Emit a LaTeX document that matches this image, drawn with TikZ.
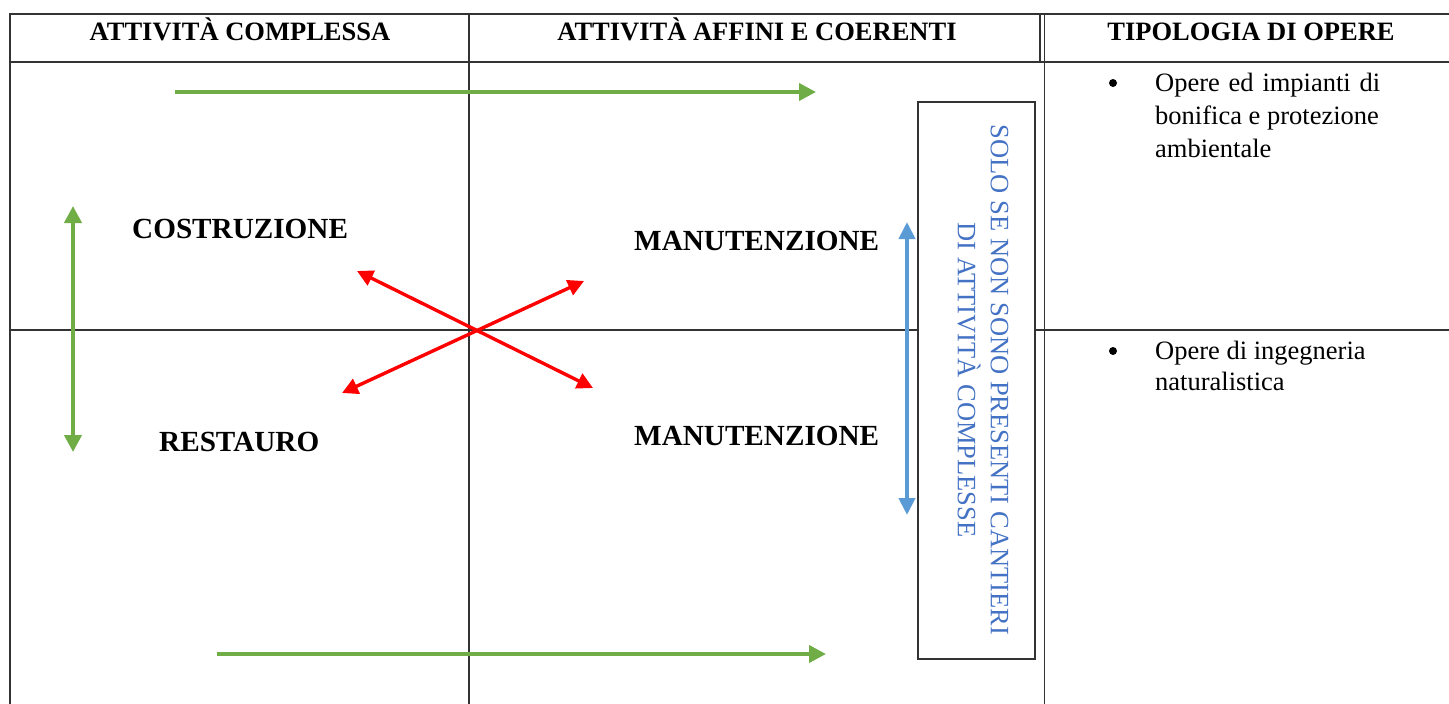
\documentclass[tikz,border=0pt]{standalone}
\usepackage{fontspec}
\setmainfont{Liberation Serif}
\usetikzlibrary{arrows.meta}
\definecolor{tgreen}{HTML}{70AD47}
\definecolor{tred}{HTML}{FF0000}
\definecolor{tblue}{HTML}{5B9BD5}
\definecolor{ttext}{HTML}{4472C4}
\definecolor{tline}{HTML}{333333}
\begin{document}
\begin{tikzpicture}[x=1pt,y=-1pt,
  grid/.style={draw=tline, line width=1.6pt},
  headtext/.style={anchor=base, font=\fontsize{26.5}{33}\selectfont\bfseries, inner sep=0pt},
  bigtext/.style={anchor=base west, font=\fontsize{29.2}{35}\selectfont\bfseries, inner sep=0pt},
  bodytext/.style={anchor=base west, font=\fontsize{26.5}{33}\selectfont, inner sep=0pt},
  garrow/.style={draw=tgreen, line width=4pt, -{Triangle[length=17pt,width=17pt]}},
  gdarrow/.style={draw=tgreen, line width=4pt, {Triangle[length=17pt,width=17pt]}-{Triangle[length=17pt,width=17pt]}},
  rdarrow/.style={draw=tred, line width=3.4pt, {Triangle[length=16pt,width=16pt]}-{Triangle[length=16pt,width=16pt]}},
  bdarrow/.style={draw=tblue, line width=4pt, {Triangle[length=17pt,width=16pt]}-{Triangle[length=17pt,width=16pt]}},
  bulletdot/.style={circle, fill=black, inner sep=0pt, minimum size=8pt}
]
\useasboundingbox (0,0) rectangle (1449,704);
% table grid
\draw[grid] (1449,14) -- (10,14) -- (10,704);
\draw[grid] (10,62) -- (1449,62);
\draw[grid] (10,330) -- (1449,330);
\draw[grid] (469,14) -- (469,704);
\draw[grid] (1040,14) -- (1040,62);
\draw[grid] (1044.5,14) -- (1044.5,704);
% headers
\node[headtext] (h1) at (240,40) {ATTIVITÀ COMPLESSA};
\node[headtext] (h2) at (757,40) {ATTIVITÀ AFFINI E COERENTI};
\node[headtext] (h3) at (1251,40) {TIPOLOGIA DI OPERE};
% main labels
\node[bigtext] (cos) at (132,238) {COSTRUZIONE};
\node[bigtext] (res) at (159,451) {RESTAURO};
\node[bigtext] (man1) at (634,250) {MANUTENZIONE};
\node[bigtext] (man2) at (634,445) {MANUTENZIONE};
% box with rotated text
\node[draw=tline, line width=1.4pt, fill=white, minimum width=117pt, minimum height=557pt, inner sep=0pt] (box) at (976.5,380.5) {};
\node[rotate=-90, align=center, text=ttext, font=\fontsize{26.5}{33}\selectfont, inner sep=0pt] (cond) at (983,380) {SOLO SE NON SONO PRESENTI CANTIERI\\DI ATTIVITÀ COMPLESSE};
% third column
\node[bulletdot] (b1) at (1113,83) {};
\node[bodytext] (t1a) at (1155,91) {\makebox[225pt][s]{Opere ed impianti di}};
\node[bodytext] (t1b) at (1155,124) {bonifica e protezione};
\node[bodytext] (t1c) at (1155,157) {ambientale};
\node[bulletdot] (b2) at (1113,351) {};
\node[bodytext] (t2a) at (1155,359) {Opere di ingegneria};
\node[bodytext] (t2b) at (1155,390) {naturalistica};
% arrow endpoints
\coordinate (gt1) at (175,92);
\coordinate (gt2) at (816,92);
\coordinate (gb1) at (217,654);
\coordinate (gb2) at (826,654);
\coordinate (gv1) at (73,206);
\coordinate (gv2) at (73,452);
\coordinate (r1a) at (357,271);
\coordinate (r1b) at (593,388);
\coordinate (r2a) at (342,393);
\coordinate (r2b) at (584,281);
\coordinate (bv1) at (907,222);
\coordinate (bv2) at (907,515);
% arrows
\draw[garrow] (gt1) -- (gt2);
\draw[garrow] (gb1) -- (gb2);
\draw[gdarrow] (gv1) -- (gv2);
\draw[rdarrow] (r1a) -- (r1b);
\draw[rdarrow] (r2a) -- (r2b);
\draw[bdarrow] (bv1) -- (bv2);
\end{tikzpicture}
\end{document}
